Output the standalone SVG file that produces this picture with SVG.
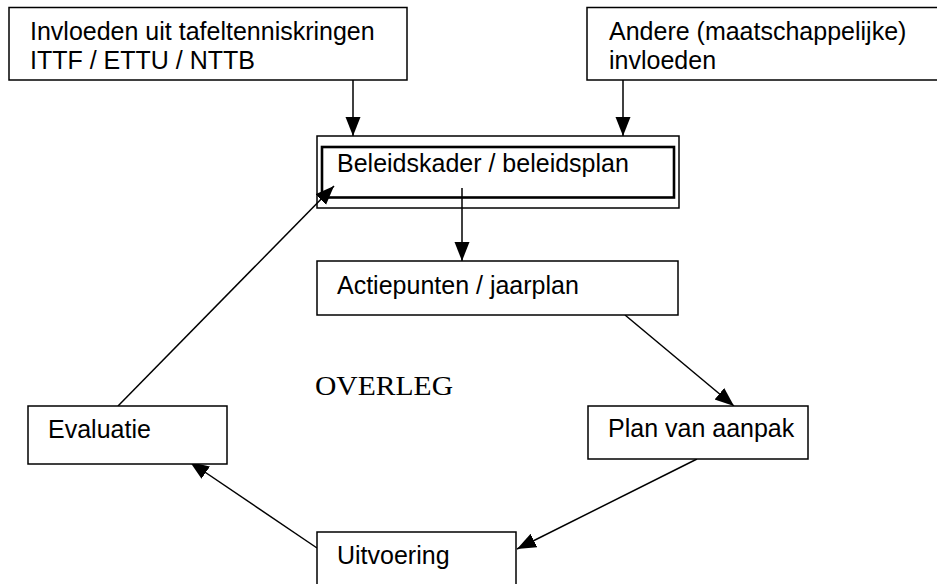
<svg xmlns="http://www.w3.org/2000/svg" width="937" height="584" viewBox="0 0 937 584">
<style>
.box{fill:#fff;stroke:#000;stroke-width:1.5}
.t{font-family:"Liberation Sans",Arial,sans-serif;font-size:25px;fill:#000}
.s{font-family:"Liberation Serif","Times New Roman",serif;font-size:28px;fill:#000}
.c{stroke:#000;stroke-width:1.5;fill:none;marker-end:url(#ah)}
</style>
<defs>
<marker id="ah" markerUnits="userSpaceOnUse" markerWidth="22" markerHeight="16" refX="19" refY="7.5" orient="auto">
<path d="M0,0 L19,7.5 L0,15 Z" fill="#000"/>
</marker>
</defs>
<rect width="937" height="584" fill="#fff"/>
<g id="connectors">
<line class="c" x1="353" y1="80" x2="353" y2="136"/>
<line class="c" x1="623" y1="80" x2="623" y2="136"/>
<line class="c" x1="462" y1="188" x2="462" y2="261"/>
<line class="c" x1="625" y1="315" x2="734" y2="406"/>
<line class="c" x1="697" y1="459" x2="517" y2="549"/>
<line class="c" x1="317" y1="548" x2="190" y2="462"/>
<line class="c" x1="118" y1="406" x2="334" y2="186"/>
</g>
<g id="n1">
<rect class="box" x="9" y="7.5" width="398" height="72.5"/>
<text class="t" x="30" y="40">Invloeden uit tafeltenniskringen</text>
<text class="t" x="30" y="69">ITTF / ETTU / NTTB</text>
</g>
<g id="n2">
<rect class="box" x="587" y="7.5" width="360" height="72.5"/>
<text class="t" x="609" y="40">Andere (maatschappelijke)</text>
<text class="t" x="609" y="69">invloeden</text>
</g>
<g id="n3">
<rect x="317" y="136" width="362" height="72" fill="none" stroke="#000" stroke-width="1.5"/>
<rect x="322" y="147" width="352" height="50.5" fill="none" stroke="#000" stroke-width="2.6"/>
<text class="t" x="337" y="172">Beleidskader / beleidsplan</text>
</g>
<g id="n4">
<rect class="box" x="317" y="261" width="361" height="54"/>
<text class="t" x="337" y="294">Actiepunten / jaarplan</text>
</g>
<g id="n5">
<rect class="box" x="588" y="406" width="220" height="53"/>
<text class="t" x="608" y="437">Plan van aanpak</text>
</g>
<g id="n6">
<rect class="box" x="317" y="532" width="199" height="60"/>
<text class="t" x="337" y="564">Uitvoering</text>
</g>
<g id="n7">
<rect class="box" x="28" y="406" width="199" height="58"/>
<text class="t" x="48" y="438">Evaluatie</text>
</g>
<text class="s" x="315" y="395" textLength="138" lengthAdjust="spacingAndGlyphs">OVERLEG</text>
</svg>
